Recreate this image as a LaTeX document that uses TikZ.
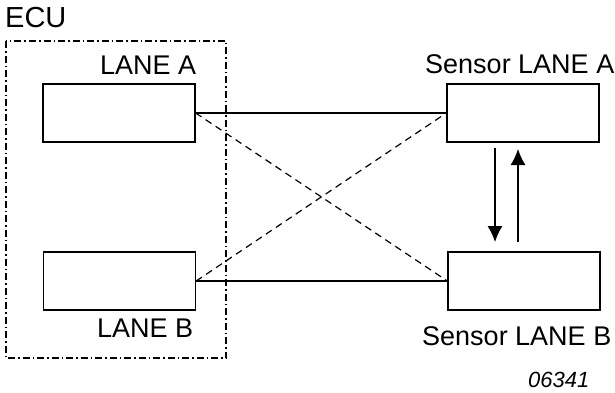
\documentclass[tikz,border=0pt]{standalone}
\usepackage{fontspec}
\setmainfont{Liberation Sans}
\usetikzlibrary{arrows.meta}
\begin{document}
\begin{tikzpicture}[x=1pt,y=-1pt,
  box/.style={draw,line width=1.3pt,minimum width=152pt,minimum height=58pt,inner sep=0pt},
  lbl/.style={anchor=base west,inner sep=0pt,font=\fontsize{27}{30}\selectfont},
  link/.style={line width=1.3pt},
  cross/.style={line width=1.2pt,dash pattern=on 7pt off 5pt},
  flow/.style={line width=1.3pt,-{Latex[length=16pt,width=15pt]}},
  ecubox/.style={draw,line width=1.2pt,dash pattern=on 7pt off 3pt on 1.5pt off 3pt}]
\useasboundingbox (0,0) rectangle (615,392);
\node[lbl,font=\fontsize{29}{32}\selectfont] (ecu) at (5,27) {ECU};
\draw[ecubox] (6,41) rectangle (226,358);
\node[box] (la) at (119,113) {};
\node[box] (lb) at (119.5,281) {};
\node[box] (sa) at (523,113) {};
\node[box] (sb) at (524,281) {};
\node[lbl] (tla) at (100,74) {LANE A};
\node[lbl] (tlb) at (97,337) {LANE B};
\node[lbl] (tsa) at (425,73) {Sensor LANE A};
\node[lbl] (tsb) at (422,345) {Sensor LANE B};
\node[anchor=base west,inner sep=0pt,font=\fontsize{22}{24}\selectfont\itshape] (num) at (528,387) {06341};
\draw[link] (la.east) -- (sa.west);
\draw[link] (lb.east) -- (sb.west);
\draw[cross] (la.east) -- (sb.west);
\draw[cross] (lb.east) -- (sa.west);
\coordinate (d1) at (495,148);
\coordinate (d2) at (495,242);
\coordinate (u1) at (518,242);
\coordinate (u2) at (518,149);
\draw[flow] (d1) -- (d2);
\draw[flow] (u1) -- (u2);
\end{tikzpicture}
\end{document}
